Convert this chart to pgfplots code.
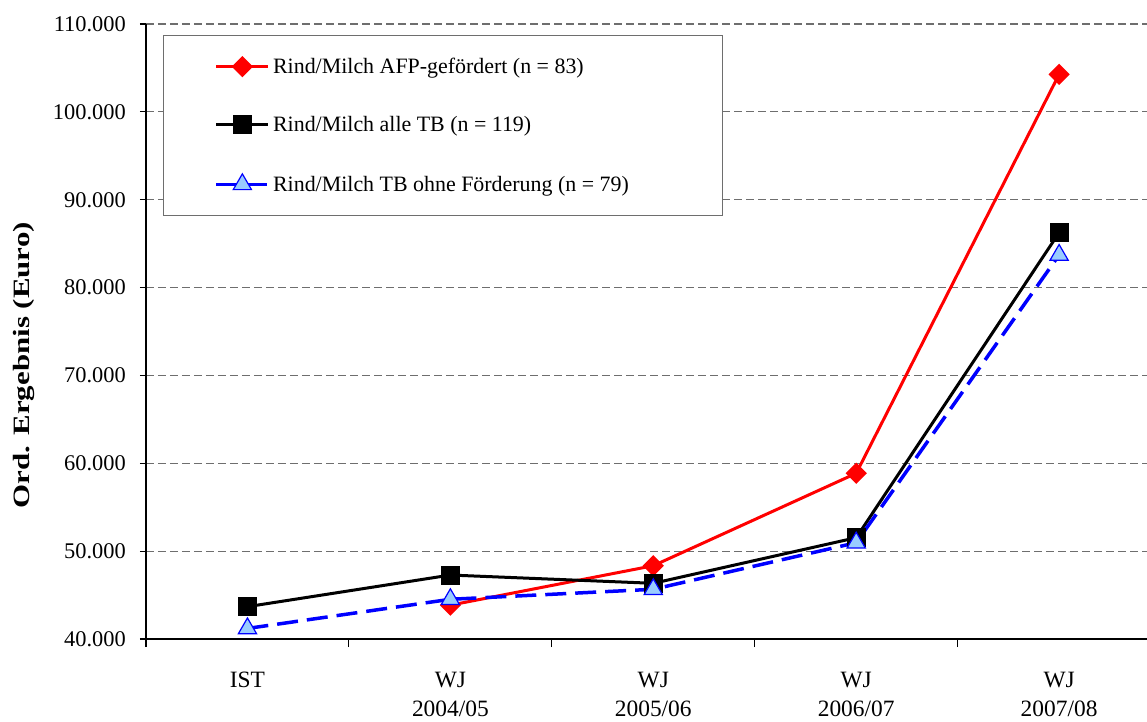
\documentclass[border=0pt]{standalone}
\usepackage{pgfplots}
\pgfplotsset{compat=1.18}
\usepackage{fontspec}
\setmainfont{Liberation Serif}
\definecolor{triblue}{RGB}{153,204,255}
\definecolor{gridgray}{RGB}{110,110,110}
\definecolor{leggray}{RGB}{110,110,110}
\begin{document}
\begin{tikzpicture}
\useasboundingbox (-146bp,-83bp) rectangle (1001bp,639bp);
\begin{axis}[
  at={(0bp,0bp)}, anchor=south west,
  scale only axis,
  width=1001bp, height=615bp,
  xmin=-0.5, xmax=4.433,
  ymin=40000, ymax=110000,
  axis x line*=bottom, axis y line*=left,
  axis line style={line width=1.3bp, black},
  xtick={0,1,2,3,4},
  xticklabels={IST, WJ\\2004/05, WJ\\2005/06, WJ\\2006/07, WJ\\2007/08},
  minor xtick={-0.5,0.5,1.5,2.5,3.5},
  major x tick style={draw=none},
  minor tick length=8bp,
  major tick length=6bp,
  tick align=outside,
  tick style={line width=1.1bp, black},
  ytick={40000,50000,...,110000},
  scaled y ticks=false,
  /pgf/number format/.cd, fixed, precision=0, 1000 sep={.}, assume math mode=true,
  /pgfplots/.cd,
  yticklabel style={font=\fontsize{22.5}{27}\selectfont, anchor=east, inner sep=0pt, xshift=-14bp},
  xticklabel style={font=\fontsize{23.5}{29}\selectfont, align=center, anchor=north, inner sep=0pt, yshift=-27bp},
  ymajorgrids,
  major grid style={gridgray, line width=1.2bp, dash pattern=on 8bp off 4bp},
  every axis y label/.style={at={(axis description cs:-0.1219,0.445)}, rotate=90, anchor=center},
  ylabel={\fontsize{23.5}{28}\selectfont\bfseries\scalebox{1.32}[1]{Ord. Ergebnis (Euro)}},
  legend style={at={(axis description cs:0.017,0.982)}, anchor=north west,
    draw=leggray, line width=1.2bp, fill=white,
    inner xsep=51bp, inner ysep=22.5bp, row sep=41bp,
    font=\fontsize{22}{26}\selectfont,
    nodes={inner xsep=3bp, inner ysep=0bp}},
  legend cell align=left,
  legend image code/.code={\draw[mark repeat=2,mark phase=2,#1] plot coordinates {(0bp,0bp)(26bp,0bp)(52bp,0bp)};},
]
\addplot[red, line width=3bp, mark=square*, mark size=6bp, mark options={rotate=45, solid, fill=red}]
  coordinates {(1,43850) (2,48340) (3,58860) (4,104270)};
\addlegendentry{Rind/Milch AFP-gefördert (n = 83)}
\addplot[black, line width=3bp, mark=square*, mark size=8bp, mark options={solid, fill=black}]
  coordinates {(0,43680) (1,47280) (2,46340) (3,51530) (4,86250)};
\addlegendentry{Rind/Milch alle TB (n = 119)}
\addplot[blue, line width=3.5bp, dash pattern=on 21bp off 9bp, mark=triangle*, mark size=10.5bp, mark options={solid, fill=triblue, draw=blue, line width=1.2bp}]
  coordinates {(0,41200) (1,44520) (2,45660) (3,50960) (4,83710)};
\addlegendentry{Rind/Milch TB ohne Förderung (n = 79)\hspace*{40bp}}
\end{axis}
\end{tikzpicture}
\end{document}
